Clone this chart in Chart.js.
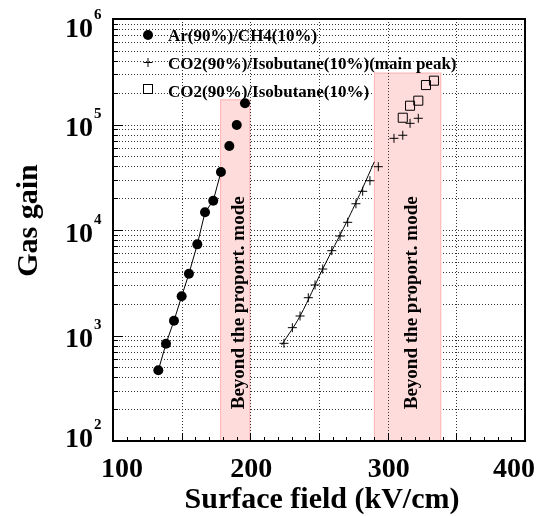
<!DOCTYPE html>
<html><head><meta charset="utf-8">
<script src="https://cdn.jsdelivr.net/npm/chart.js@4/dist/chart.umd.min.js"></script>
<style>html,body{margin:0;padding:0;background:#fff}canvas{display:block}</style>
</head><body>
<canvas id="c" width="540" height="516"></canvas>
<script>
// ---- data ----
const arField = [133.0,138.6,144.4,150.0,155.3,161.4,167.0,173.0,178.6,184.7,190.1,196.1];
const arGain  = [468,836,1380,2356,3855,7310,14720,18970,35480,62530,98900,158900];
const arFitCount = 9;
const co2Field = [224.5,230.6,236.2,242.2,247.1,252.7,259.3,265.3,270.9,276.9,281.8,287.1,293.2,304.6,311.0,316.3,322.3];
const co2Gain  = [843,1186,1531,2281,3013,4266,6368,8770,11830,17740,23270,29310,39810,73960,79070,102600,114500];
const co2FitField = [222.8,236.2,252.7,270.2,281.1,290.3];
const co2FitGain  = [813,1531,4266,11990,23930,44360];
const sqField = [311.0,316.3,322.3,327.9,333.7];
const sqGain  = [115900,150600,168200,236600,260200];
const bandFrom = [178,290];
const bandTo   = [200,339];
const bandTop  = [173000,310000];
const bandText = 'Beyond the proport. mode';
const bandTextAt = 200;
const xLabels = [100,200,300,400];
const xGrid = [150,200,250,300,350];
const yExps = [2,3,4,5,6];
const seriesLabels = ['Ar(90%)/CH4(10%)','CO2(90%)/Isobutane(10%)(main peak)','CO2(90%)/Isobutane(10%)'];
const xTitle = 'Surface field (kV/cm)';
const yTitle = 'Gas gain';

const pts = (xs, ys) => xs.map((v,i)=>({x:v,y:ys[i]}));
const SERIF = '"Liberation Serif","Times New Roman",Times,serif';

function seg(ctx,x1,y1,x2,y2){ctx.beginPath();ctx.moveTo(x1,y1);ctx.lineTo(x2,y2);ctx.stroke();}

const decor = {
  id:'decor',
  beforeDatasetsDraw(chart){
    const {ctx, chartArea:a, scales:{x,y}} = chart;
    ctx.save();
    ctx.strokeStyle = '#333'; ctx.lineWidth = 1; ctx.setLineDash([1,2]);
    for (let e=2;e<6;e++) for (let m=1;m<10;m++){
      const v = m*Math.pow(10,e); if (v<=100) continue;
      const py = Math.round(y.getPixelForValue(v))+0.5;
      seg(ctx,a.left,py,a.right,py);
    }
    ctx.setLineDash([]);
    for (let i=0;i<bandFrom.length;i++){
      const x1 = x.getPixelForValue(bandFrom[i]), x2 = x.getPixelForValue(bandTo[i]);
      const yt = y.getPixelForValue(bandTop[i]);
      ctx.fillStyle = '#ffdcdc';
      ctx.fillRect(x1,yt,x2-x1,a.bottom-yt);
      ctx.strokeStyle = '#ffb4b4';
      ctx.strokeRect(x1+0.5,yt+0.5,x2-x1-1,a.bottom-yt);
    }
    ctx.strokeStyle = '#333'; ctx.setLineDash([1,2]);
    for (const v of xGrid){
      const px = Math.round(x.getPixelForValue(v))+0.5;
      seg(ctx,px,a.top,px,a.bottom);
    }
    ctx.setLineDash([]);
    ctx.fillStyle = '#000';
    ctx.font = 'bold 19px '+SERIF;
    ctx.textAlign = 'left'; ctx.textBaseline = 'alphabetic';
    for (let i=0;i<bandFrom.length;i++){
      const cx = (x.getPixelForValue(bandFrom[i])+x.getPixelForValue(bandTo[i]))/2;
      ctx.save();
      ctx.translate(cx+9, y.getPixelForValue(bandTextAt));
      ctx.rotate(-Math.PI/2);
      ctx.fillText(bandText,0,0);
      ctx.restore();
    }
    ctx.restore();
  },
  afterDatasetsDraw(chart){
    const {ctx, chartArea:a, scales:{x,y}} = chart;
    ctx.save();
    ctx.strokeStyle = '#000'; ctx.fillStyle = '#000';
    // ticks
    ctx.lineWidth = 1;
    for (let v=100; v<=400; v+=10){
      const px = Math.round(x.getPixelForValue(v))+0.5;
      seg(ctx,px,a.bottom,px,a.bottom-(v%50===0?8:4));
    }
    for (let e=2;e<6;e++) for (let m=1;m<10;m++){
      const py = Math.round(y.getPixelForValue(m*Math.pow(10,e)))+0.5;
      seg(ctx,a.left,py,a.left+(m===1?10:5),py);
    }
    // frame
    ctx.lineWidth = 2;
    ctx.strokeRect(a.left,a.top,a.right-a.left,a.bottom-a.top);
    // x labels
    ctx.font = 'bold 28px '+SERIF; ctx.textAlign='center'; ctx.textBaseline='alphabetic';
    for (const v of xLabels){
      let px = x.getPixelForValue(v)+1;
      px = Math.min(Math.max(px,a.left+9),a.right-11);
      ctx.fillText(String(v),px,a.bottom+36);
    }
    // y labels
    for (const e of yExps){
      const py = y.getPixelForValue(Math.pow(10,e));
      const base = Math.min(Math.max(py+11.5,a.top+18),a.bottom+6);
      ctx.font = 'bold 28px '+SERIF; ctx.textAlign='right';
      ctx.fillText('10',a.left-20,base);
      ctx.font = 'bold 15px '+SERIF; ctx.textAlign='left';
      ctx.fillText(String(e),a.left-19,base-18);
    }
    // titles
    ctx.font = 'bold 30px '+SERIF; ctx.textAlign='center';
    ctx.fillText(xTitle,(a.left+a.right)/2+3,a.bottom+67);
    ctx.save();
    ctx.translate(37,(a.top+a.bottom)/2-9.5);
    ctx.rotate(-Math.PI/2);
    ctx.fillText(yTitle,0,0);
    ctx.restore();
    // legend
    const mx = a.left+35, tx = a.left+55;
    const rows = [a.top+22,a.top+50,a.top+78];
    ctx.font = 'bold 17px '+SERIF; ctx.textAlign='left';
    ctx.lineWidth = 1;
    // circle
    ctx.beginPath(); ctx.arc(mx,rows[0]-6,5,0,Math.PI*2); ctx.fill();
    // cross
    seg(ctx,mx-4.5,rows[1]-6.5,mx+4.5,rows[1]-6.5);
    seg(ctx,mx,rows[1]-11,mx,rows[1]-2);
    // square
    ctx.strokeRect(mx-4.5,rows[2]-12.5,9,9);
    for (let i=0;i<3;i++) ctx.fillText(seriesLabels[i],tx,rows[i]);
    ctx.restore();
  }
};

new Chart(document.getElementById('c'),{
  type:'scatter',
  data:{datasets:[
    {label:'Ar fit', data: pts(arField.slice(0,arFitCount), arGain.slice(0,arFitCount)), showLine:true, pointRadius:0, borderColor:'#000', borderWidth:1, fill:false},
    {label:seriesLabels[0], data: pts(arField, arGain), pointStyle:'circle', pointRadius:5, backgroundColor:'#000', borderColor:'#000', borderWidth:0},
    {label:'CO2 fit', data: pts(co2FitField, co2FitGain), showLine:true, pointRadius:0, borderColor:'#000', borderWidth:1, tension:0.4, fill:false},
    {label:seriesLabels[1], data: pts(co2Field, co2Gain), pointStyle:'cross', pointRadius:4.5, borderColor:'#000', borderWidth:1},
    {label:seriesLabels[2], data: pts(sqField, sqGain), pointStyle:'rect', pointRadius:6.4, borderColor:'#000', backgroundColor:'rgba(0,0,0,0)', borderWidth:1}
  ]},
  options:{
    responsive:false, animation:false, devicePixelRatio:1,
    layout:{padding:{top:19,right:15,left:0,bottom:0}},
    plugins:{legend:{display:false},tooltip:{enabled:false}},
    scales:{
      x:{type:'linear',min:100,max:400,ticks:{display:false},grid:{display:false},border:{display:false},
         afterFit(s){s.height=75;}},
      y:{type:'logarithmic',min:100,max:1e6,ticks:{display:false},grid:{display:false},border:{display:false},
         afterFit(s){s.width=113;}}
    }
  },
  plugins:[decor]
});
</script>
</body></html>
